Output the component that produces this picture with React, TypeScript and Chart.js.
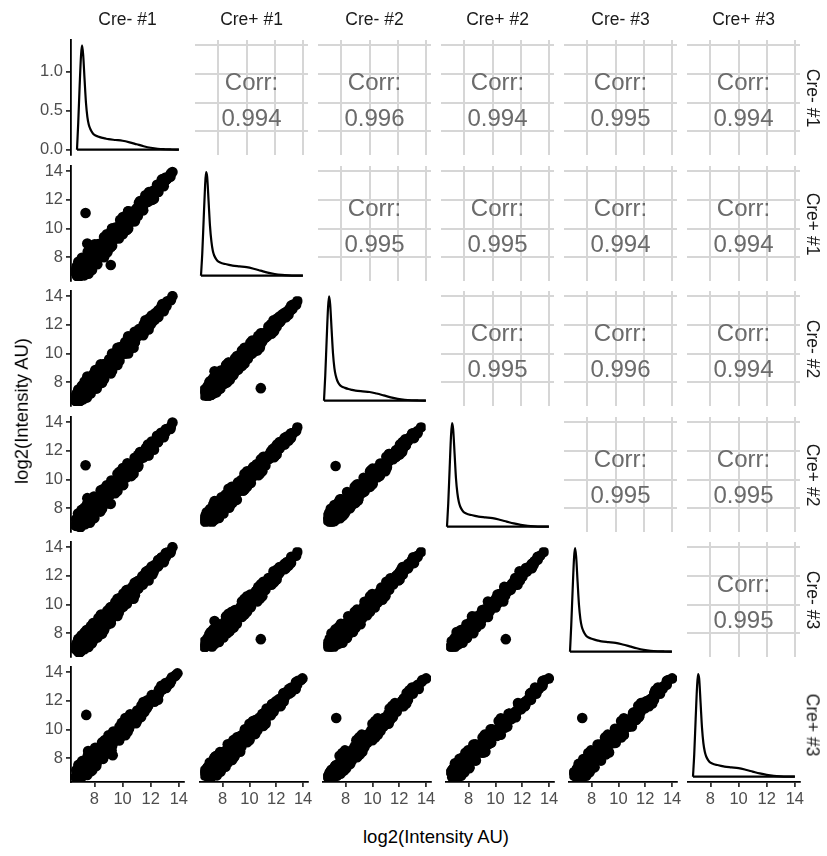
import React, { useEffect, useRef } from "react";
import { Chart, registerables } from "chart.js";

Chart.register(...registerables);

// ---------------- data ----------------
const SAMPLE_NAMES = ["Cre- #1", "Cre+ #1", "Cre- #2", "Cre+ #2", "Cre- #3", "Cre+ #3"];

// log2(Intensity AU) per protein, one array per sample (same protein order)
const creMinus1 = [
  7.02, 6.68, 7.0, 6.78, 7.01, 6.76, 7.33, 6.76, 7.25, 7.01, 7.22, 6.88, 7.64, 6.88, 7.52, 7.2, 7.48, 7.13, 7.9, 7.15,
  7.8, 7.52, 7.83, 7.5, 8.3, 7.58, 8.25, 7.96, 8.28, 7.98, 8.8, 8.1, 8.8, 8.54, 8.88, 8.58, 9.3, 8.8, 9.35, 9.18,
  9.46, 9.26, 9.9, 9.4, 9.95, 9.78, 10.06, 9.86, 10.5, 10.0, 10.55, 10.38, 10.66, 10.46, 11.1, 10.6, 11.1, 11.04, 11.28, 11.2,
  11.68, 11.4, 11.82, 11.76, 12.0, 11.92, 12.4, 12.15, 12.58, 12.59, 12.83, 12.83, 13.25, 13.1, 13.45, 13.51, 13.78, 13.9,
  7.42, 7.55, 9.3,
  6.68, 7.06, 6.88, 7.1, 6.71, 7.14, 6.9, 7.39, 7.18, 7.49, 6.86, 7.44, 7.07, 7.74, 7.43, 7.75, 7.12, 7.72, 7.37, 8.08,
  7.78, 8.13, 7.54, 8.16, 7.81, 8.52, 8.25, 8.62, 8.05, 8.69, 8.38, 9.11, 8.85, 9.22, 8.74, 9.26, 9.04, 9.63, 9.45, 9.76,
  9.34, 9.86, 9.64, 10.23, 10.05, 10.36, 9.94, 10.46, 10.24, 10.83, 10.65, 10.96, 10.54, 11.06, 10.93, 11.36, 11.3, 11.55, 11.34, 11.73,
  11.65, 12.08, 12.02, 12.27, 12.07, 12.49, 12.49, 12.82, 12.87, 13.1, 13.05, 13.36, 13.4, 13.75,
  7.85, 7.35, 8.25, 7.75, 8.65, 8.15, 9.05, 8.55, 9.4, 9.0, 9.8, 9.4, 10.2, 9.8, 10.6, 10.2, 11.0, 10.6, 11.32, 11.08,
  11.72, 11.48, 12.12, 11.88, 12.52, 12.35, 12.85, 12.75, 13.25, 13.15,
];
const crePlus1 = [
  6.68, 7.08, 6.94, 6.68, 7.25, 7.0, 6.73, 7.36, 7.19, 6.89, 7.46, 7.2, 6.84, 7.68, 7.44, 7.04, 7.8, 7.45, 7.1, 7.95,
  7.72, 7.36, 8.15, 7.82, 7.5, 8.38, 8.17, 7.8, 8.6, 8.3, 8.0, 8.9, 8.72, 8.38, 9.2, 8.9, 8.7, 9.4, 9.29, 9.06,
  9.7, 9.5, 9.3, 10.0, 9.89, 9.66, 10.3, 10.1, 9.9, 10.6, 10.49, 10.26, 10.9, 10.7, 10.5, 11.2, 11.06, 10.96, 11.44, 11.36,
  11.28, 11.8, 11.78, 11.68, 12.16, 12.08, 12.0, 12.55, 12.55, 12.53, 12.95, 12.95, 12.95, 13.4, 13.43, 13.47, 13.85, 13.95,
  11.08, 8.95, 7.45,
  6.93, 6.76, 6.68, 7.16, 6.89, 7.08, 7.26, 7.09, 6.97, 7.58, 7.13, 7.35, 7.61, 7.29, 7.12, 7.84, 7.39, 7.63, 7.91, 7.63,
  7.47, 8.22, 7.81, 8.07, 8.35, 8.07, 7.94, 8.71, 8.32, 8.6, 8.92, 8.66, 8.54, 9.31, 8.95, 9.19, 9.46, 9.28, 9.21, 9.83,
  9.55, 9.79, 10.06, 9.88, 9.81, 10.43, 10.15, 10.39, 10.66, 10.48, 10.41, 11.03, 10.75, 10.99, 11.19, 11.14, 11.15, 11.6, 11.47, 11.68,
  11.91, 11.86, 11.87, 12.32, 12.2, 12.44, 12.65, 12.69, 12.78, 13.12, 13.13, 13.33, 13.56, 13.62,
  7.15, 7.35, 7.55, 8.45, 8.65, 8.85, 8.35, 8.55, 8.8, 9.6, 9.8, 10.0, 9.6, 9.8, 10.0, 10.8, 11.0, 11.2, 10.88, 11.08,
  11.28, 11.92, 12.12, 12.32, 12.08, 12.35, 12.55, 13.05, 13.25, 13.45,
];
const creMinus2 = [
  6.72, 6.93, 6.68, 7.2, 6.86, 7.12, 7.03, 7.21, 6.8, 7.43, 7.07, 7.36, 7.24, 7.48, 6.92, 7.76, 7.28, 7.61, 7.5, 7.75,
  7.2, 8.08, 7.63, 7.98, 7.9, 8.18, 7.65, 8.52, 8.08, 8.46, 8.4, 8.7, 8.2, 9.1, 8.68, 9.06, 9.0, 9.25, 8.9, 9.6,
  9.31, 9.62, 9.6, 9.85, 9.5, 10.2, 9.91, 10.22, 10.2, 10.45, 10.1, 10.8, 10.51, 10.82, 10.8, 11.05, 10.8, 11.32, 11.18, 11.44,
  11.48, 11.7, 11.52, 12.04, 11.9, 12.16, 12.2, 12.45, 12.35, 12.8, 12.76, 13.01, 13.1, 13.33, 13.3, 13.65, 13.72, 14.0,
  7.3, 8.4, 8.6,
  6.68, 7.0, 7.15, 6.77, 7.04, 7.26, 6.84, 7.33, 7.45, 7.0, 7.35, 7.62, 6.98, 7.65, 7.84, 7.26, 7.61, 7.9, 7.28, 7.99,
  8.19, 7.64, 8.03, 8.34, 7.72, 8.43, 8.66, 8.13, 8.54, 8.87, 8.29, 9.02, 9.26, 8.73, 9.12, 9.4, 8.97, 9.56, 9.77, 9.38,
  9.72, 10.0, 9.57, 10.16, 10.37, 9.98, 10.32, 10.6, 10.17, 10.76, 10.97, 10.58, 10.92, 11.2, 10.88, 11.31, 11.5, 11.31, 11.58, 11.81,
  11.6, 12.03, 12.22, 12.03, 12.31, 12.57, 12.47, 12.8, 12.99, 12.95, 13.2, 13.41, 13.38, 13.73,
  7.85, 8.05, 7.55, 7.75, 7.95, 8.85, 9.05, 9.25, 8.8, 9.0, 9.2, 10.0, 10.2, 10.4, 10.0, 10.2, 10.4, 11.2, 11.32, 11.52,
  11.28, 11.48, 11.68, 12.32, 12.52, 12.65, 12.55, 12.75, 12.95, 13.45,
];
const crePlus2 = [
  6.87, 6.78, 7.15, 6.75, 6.68, 7.18, 7.18, 7.06, 7.4, 6.98, 6.86, 7.44, 7.44, 7.28, 7.72, 7.16, 7.0, 7.69, 7.7, 7.55,
  8.0, 7.48, 7.35, 8.06, 8.1, 7.98, 8.45, 7.92, 7.8, 8.54, 8.6, 8.5, 9.0, 8.5, 8.4, 9.14, 9.15, 9.1, 9.5, 9.15,
  9.1, 9.68, 9.75, 9.7, 10.1, 9.75, 9.7, 10.28, 10.35, 10.3, 10.7, 10.35, 10.3, 10.88, 10.95, 10.9, 11.2, 11.02, 11.04, 11.48,
  11.58, 11.6, 11.92, 11.74, 11.76, 12.2, 12.3, 12.35, 12.65, 12.58, 12.65, 13.04, 13.18, 13.25, 13.5, 13.5, 13.7, 13.98,
  11.0, 8.7, 8.3,
  6.81, 6.68, 7.0, 7.01, 7.22, 6.87, 7.14, 6.88, 7.3, 7.36, 7.62, 7.03, 7.43, 6.98, 7.61, 7.62, 7.88, 7.31, 7.73, 7.32,
  7.96, 8.0, 8.3, 7.75, 8.17, 7.76, 8.43, 8.49, 8.81, 8.28, 8.74, 8.35, 9.03, 9.09, 9.33, 8.94, 9.32, 9.04, 9.59, 9.66,
  9.93, 9.54, 9.92, 9.64, 10.19, 10.26, 10.53, 10.14, 10.52, 10.24, 10.79, 10.86, 11.13, 10.74, 11.1, 10.98, 11.39, 11.49, 11.72, 11.53,
  11.82, 11.7, 12.11, 12.21, 12.45, 12.29, 12.6, 12.6, 12.92, 13.06, 13.27, 13.24, 13.51, 13.53,
  7.15, 8.05, 8.25, 8.45, 7.95, 8.15, 8.35, 9.25, 9.4, 9.6, 9.2, 9.4, 9.6, 10.4, 10.6, 10.8, 10.4, 10.6, 10.88, 11.52,
  11.72, 11.92, 11.68, 11.88, 12.08, 12.65, 12.85, 13.05, 12.95, 13.15,
];
const creMinus3 = [
  6.68, 6.87, 6.85, 7.14, 6.71, 7.3, 6.88, 7.15, 7.1, 7.37, 6.92, 7.6, 7.04, 7.4, 7.32, 7.68, 7.08, 7.85, 7.3, 7.67,
  7.6, 8.0, 7.43, 8.22, 7.7, 8.1, 8.05, 8.44, 7.88, 8.7, 8.2, 8.62, 8.6, 9.02, 8.48, 9.3, 8.85, 9.19, 9.2, 9.54,
  9.16, 9.8, 9.45, 9.79, 9.8, 10.14, 9.76, 10.4, 10.05, 10.39, 10.4, 10.74, 10.36, 11.0, 10.65, 10.99, 11.0, 11.28, 11.08, 11.56,
  11.38, 11.66, 11.72, 12.0, 11.8, 12.28, 12.1, 12.41, 12.5, 12.77, 12.68, 13.1, 13.03, 13.3, 13.4, 13.63, 13.72, 14.0,
  7.3, 8.2, 8.7,
  7.02, 6.73, 6.68, 6.95, 7.13, 6.84, 7.35, 7.06, 6.91, 7.27, 7.49, 6.99, 7.75, 7.25, 7.03, 7.53, 7.75, 7.27, 8.05, 7.59,
  7.38, 7.91, 8.17, 7.71, 8.49, 8.03, 7.85, 8.4, 8.68, 8.24, 9.06, 8.62, 8.45, 9.0, 9.23, 8.91, 9.57, 9.25, 9.14, 9.59,
  9.83, 9.51, 10.17, 9.85, 9.74, 10.19, 10.43, 10.11, 10.77, 10.45, 10.34, 10.79, 11.03, 10.71, 11.26, 11.11, 11.1, 11.44, 11.65, 11.51,
  11.98, 11.83, 11.82, 12.16, 12.38, 12.27, 12.69, 12.68, 12.75, 13.03, 13.24, 13.23, 13.6, 13.61,
  7.85, 8.05, 8.25, 7.75, 7.95, 8.15, 9.05, 9.25, 9.4, 9.0, 9.2, 9.4, 10.2, 10.4, 10.6, 10.2, 10.4, 10.6, 11.32, 11.52,
  11.72, 11.48, 11.68, 11.88, 12.52, 12.65, 12.85, 12.75, 12.95, 13.15,
];
const crePlus3 = [
  6.81, 6.68, 6.76, 7.2, 7.07, 6.7, 7.12, 6.88, 7.01, 7.43, 7.28, 6.8, 7.36, 7.04, 7.2, 7.76, 7.56, 7.05, 7.62, 7.31,
  7.48, 8.08, 7.91, 7.42, 8.02, 7.74, 7.93, 8.52, 8.36, 7.9, 8.52, 8.26, 8.48, 9.1, 8.96, 8.5, 9.09, 8.92, 9.11, 9.6,
  9.52, 9.2, 9.69, 9.52, 9.71, 10.2, 10.12, 9.8, 10.29, 10.12, 10.31, 10.8, 10.72, 10.4, 10.89, 10.72, 10.94, 11.32, 11.32, 11.16,
  11.54, 11.48, 11.66, 12.04, 12.04, 11.88, 12.26, 12.23, 12.46, 12.8, 12.86, 12.8, 13.15, 13.16, 13.37, 13.65, 13.8, 13.92,
  11.02, 8.5, 8.2,
  6.69, 7.03, 7.03, 6.68, 7.16, 6.81, 7.02, 7.36, 7.33, 6.82, 7.53, 6.94, 7.25, 7.7, 7.66, 7.08, 7.79, 7.22, 7.55, 8.04,
  8.01, 7.46, 8.21, 7.66, 7.99, 8.48, 8.48, 7.95, 8.72, 8.19, 8.56, 9.07, 9.08, 8.55, 9.26, 8.87, 9.18, 9.6, 9.63, 9.24,
  9.86, 9.47, 9.78, 10.2, 10.23, 9.84, 10.46, 10.07, 10.38, 10.8, 10.83, 10.44, 11.06, 10.67, 11.02, 11.33, 11.41, 11.22, 11.67, 11.48,
  11.74, 12.05, 12.13, 11.94, 12.4, 12.24, 12.54, 12.81, 12.94, 12.9, 13.25, 13.22, 13.45, 13.74,
  7.15, 7.35, 8.25, 8.45, 8.65, 8.15, 8.35, 8.55, 9.4, 9.6, 9.8, 9.4, 9.6, 9.8, 10.6, 10.8, 11.0, 10.6, 10.88, 11.08,
  11.72, 11.92, 12.12, 11.88, 12.08, 12.35, 12.85, 13.05, 13.25, 13.15,
];
const SAMPLES = [creMinus1, crePlus1, creMinus2, crePlus2, creMinus3, crePlus3];

// density curves (diagonal panels)
const DENS_X = [
  6.76, 6.85, 6.95, 7.05, 7.12, 7.2, 7.3, 7.4, 7.5, 7.6, 7.7, 7.85, 8.0, 8.25, 8.5, 8.75, 9.0, 9.5, 10.0, 10.5, 11.0,
  11.5, 12.0, 12.5, 13.0, 13.5, 14.0,
];
const densCreMinus1 = [0, 0.35, 0.82, 1.22, 1.34, 1.22, 0.9, 0.6, 0.42, 0.32, 0.27, 0.22, 0.19, 0.17, 0.155, 0.145, 0.135, 0.125, 0.115, 0.095, 0.07, 0.045, 0.025, 0.012, 0.006, 0.003, 0.001];
const densCrePlus1 = [0, 0.28, 0.72, 1.15, 1.33, 1.27, 0.96, 0.64, 0.44, 0.32, 0.26, 0.21, 0.18, 0.16, 0.15, 0.14, 0.13, 0.12, 0.11, 0.09, 0.065, 0.04, 0.022, 0.011, 0.005, 0.002, 0.001];
const densCreMinus2 = [0, 0.32, 0.78, 1.2, 1.34, 1.24, 0.92, 0.61, 0.42, 0.32, 0.26, 0.21, 0.185, 0.165, 0.15, 0.14, 0.13, 0.12, 0.112, 0.092, 0.068, 0.043, 0.024, 0.012, 0.006, 0.003, 0.001];
const densCrePlus2 = [0, 0.3, 0.75, 1.18, 1.33, 1.25, 0.94, 0.62, 0.43, 0.32, 0.26, 0.21, 0.18, 0.16, 0.15, 0.14, 0.13, 0.12, 0.11, 0.09, 0.066, 0.042, 0.023, 0.011, 0.005, 0.002, 0.001];
const densCreMinus3 = [0, 0.34, 0.8, 1.21, 1.33, 1.22, 0.9, 0.6, 0.42, 0.32, 0.27, 0.22, 0.19, 0.17, 0.155, 0.143, 0.133, 0.123, 0.113, 0.093, 0.069, 0.044, 0.024, 0.012, 0.006, 0.003, 0.001];
const densCrePlus3 = [0, 0.29, 0.74, 1.16, 1.32, 1.26, 0.95, 0.63, 0.43, 0.32, 0.26, 0.21, 0.18, 0.16, 0.15, 0.14, 0.13, 0.12, 0.11, 0.09, 0.066, 0.042, 0.023, 0.011, 0.005, 0.002, 0.001];
const DENSITIES = [densCreMinus1, densCrePlus1, densCreMinus2, densCrePlus2, densCreMinus3, densCrePlus3];

// correlation labels (upper triangle, row r, column c)
const CORR_LABELS: string[][] = [
  ["", "0.994", "0.996", "0.994", "0.995", "0.994"],
  ["", "", "0.995", "0.995", "0.994", "0.994"],
  ["", "", "", "0.995", "0.996", "0.994"],
  ["", "", "", "", "0.995", "0.995"],
  ["", "", "", "", "", "0.995"],
  ["", "", "", "", "", ""],
];

const VALUE_TICKS = [8, 10, 12, 14];
const DENS_TICKS = [0, 0.5, 1.0];
const AXIS_TITLE = "log2(Intensity AU)";

// ---------------- layout / style ----------------
const V_MIN = 6.335;
const V_MAX = 14.365;
const D_MIN = -0.068;
const D_MAX = 1.41;

const FONT = '"Liberation Sans", Arial, Helvetica, sans-serif';
const X0 = 71.4;
const DX = 123.2;
const PW = 113;
const Y0 = 40.3;
const DY = 125.4;
const PH = 115;
const Y_AXIS_W = 50;
const X_AXIS_H = 36;
const EDGE = 12;

type Kind = "scatter" | "density" | "corr";
type Panel = {
  r: number; c: number; kind: Kind; showX: boolean; showY: boolean;
  left: number; top: number; width: number; height: number;
  padTop: number; padBottom: number; padRight: number;
  px: number; py: number;
};

const PANELS: Panel[] = [];
for (let r = 0; r < 6; r++) {
  for (let c = 0; c < 6; c++) {
    const kind: Kind = r === c ? "density" : r > c ? "scatter" : "corr";
    const showX = r === 5;
    const showY = c === 0;
    const px = Math.round(X0 + DX * c);
    const py = Math.round(Y0 + DY * r);
    const padTop = showY ? EDGE : 0;
    const padBottom = showY && !showX ? EDGE : 0;
    const padRight = showX ? EDGE : 0;
    const left = px - (showY ? Y_AXIS_W : 0);
    const top = py - padTop;
    const width = PW + (showY ? Y_AXIS_W : 0) + padRight;
    const height = PH + padTop + padBottom + (showX ? X_AXIS_H : 0);
    PANELS.push({ r, c, kind, showX, showY, left, top, width, height, padTop, padBottom, padRight, px, py });
  }
}

function zeroPad(s: any) {
  s.paddingLeft = 0;
  s.paddingRight = 0;
  s.paddingTop = 0;
  s.paddingBottom = 0;
}

function dataAxis(axis: "x" | "y", show: boolean, min: number, max: number, ticks: number[], fmt: (v: number) => string) {
  return {
    type: "linear",
    min,
    max,
    display: show,
    afterBuildTicks: (s: any) => {
      s.ticks = ticks.map((v) => ({ value: v }));
    },
    afterFit: (s: any) => {
      if (axis === "x") s.height = show ? X_AXIS_H : 0;
      else s.width = show ? Y_AXIS_W : 0;
      zeroPad(s);
    },
    ticks: {
      display: true,
      autoSkip: false,
      maxRotation: 0,
      font: { family: FONT, size: 16.5 },
      color: "#4d4d4d",
      padding: 3,
      callback: (v: any) => fmt(Number(v)),
    },
    grid: {
      display: true,
      drawOnChartArea: false,
      drawTicks: true,
      tickLength: 5,
      tickWidth: 1.8,
      tickColor: "#333333",
      lineWidth: 1.8,
      color: "#333333",
    },
    border: { display: true, color: "#000000", width: 1.8 },
  };
}

function gridAxis(axis: "x" | "y") {
  return {
    type: "linear",
    min: V_MIN,
    max: V_MAX,
    display: true,
    afterBuildTicks: (s: any) => {
      s.ticks = VALUE_TICKS.map((v) => ({ value: v }));
    },
    afterFit: (s: any) => {
      if (axis === "x") s.height = 0;
      else s.width = 0;
      zeroPad(s);
    },
    ticks: { display: false },
    grid: { display: true, drawOnChartArea: true, drawTicks: false, color: "#d6d6d6", lineWidth: 2 },
    border: { display: false },
  };
}

const fmtInt = (v: number) => String(Math.round(v));
const fmtDens = (v: number) => v.toFixed(1);

function buildConfig(p: Panel): any {
  const common = {
    animation: false,
    responsive: false,
    events: [],
    layout: { padding: { top: p.padTop, bottom: p.padBottom, right: p.padRight, left: 0 } },
    plugins: { legend: { display: false }, tooltip: { enabled: false } },
  };
  if (p.kind === "corr") {
    return {
      type: "scatter",
      data: { datasets: [{ data: [], pointRadius: 0 }] },
      options: { ...common, scales: { x: gridAxis("x"), y: gridAxis("y") } },
    };
  }
  const xAxis = dataAxis("x", p.showX, V_MIN, V_MAX, VALUE_TICKS, fmtInt);
  if (p.kind === "density") {
    const dy = DENSITIES[p.c];
    const curve = DENS_X.map((x, i) => ({ x, y: dy[i] }));
    const base = [
      { x: DENS_X[0], y: 0 },
      { x: DENS_X[DENS_X.length - 1], y: 0 },
    ];
    return {
      type: "scatter",
      data: {
        datasets: [
          {
            data: curve,
            showLine: true,
            borderColor: "#000000",
            borderWidth: 2.2,
            pointRadius: 0,
            cubicInterpolationMode: "monotone",
            fill: false,
          },
          { data: base, showLine: true, borderColor: "#000000", borderWidth: 2.2, pointRadius: 0, fill: false },
        ],
      },
      options: {
        ...common,
        scales: { x: xAxis, y: dataAxis("y", p.showY, D_MIN, D_MAX, DENS_TICKS, fmtDens) },
      },
    };
  }
  const xs = SAMPLES[p.c];
  const ys = SAMPLES[p.r];
  const pts = xs.map((x, i) => ({ x, y: ys[i] }));
  return {
    type: "scatter",
    data: {
      datasets: [
        {
          data: pts,
          pointRadius: 5.3,
          pointHoverRadius: 5.3,
          backgroundColor: "#000000",
          borderWidth: 0,
        },
      ],
    },
    options: {
      ...common,
      scales: { x: xAxis, y: dataAxis("y", p.showY, V_MIN, V_MAX, VALUE_TICKS, fmtInt) },
    },
  };
}

export default function App() {
  const canvases = useRef<(HTMLCanvasElement | null)[]>([]);

  useEffect(() => {
    const charts: Chart[] = [];
    PANELS.forEach((p, i) => {
      const cv = canvases.current[i];
      if (!cv) return;
      charts.push(new Chart(cv, buildConfig(p)));
    });
    return () => {
      charts.forEach((ch) => ch.destroy());
    };
  }, []);

  const textBase: React.CSSProperties = {
    position: "absolute",
    fontFamily: FONT,
    whiteSpace: "nowrap",
    lineHeight: 1,
  };

  return (
    <div
      style={{
        position: "absolute",
        left: 0,
        top: 0,
        width: 827,
        height: 856,
        background: "#ffffff",
        overflow: "hidden",
      }}
    >
      {PANELS.map((p, i) => (
        <canvas
          key={i}
          ref={(el) => {
            canvases.current[i] = el;
          }}
          width={p.width}
          height={p.height}
          style={{ position: "absolute", left: p.left, top: p.top, width: p.width, height: p.height }}
        />
      ))}

      {PANELS.filter((p) => p.kind === "corr").map((p, i) => (
        <div
          key={"corr" + i}
          style={{
            ...textBase,
            left: p.px + PW / 2,
            top: p.py + PH / 2 + 2,
            transform: "translate(-50%, -50%)",
            fontSize: 24,
            lineHeight: "36px",
            color: "#6b6b6b",
            textAlign: "center",
          }}
        >
          <div>Corr:</div>
          <div>{CORR_LABELS[p.r][p.c]}</div>
        </div>
      ))}

      {SAMPLE_NAMES.map((name, c) => (
        <div
          key={"top" + c}
          style={{
            ...textBase,
            left: Math.round(X0 + DX * c) + PW / 2,
            top: 20,
            transform: "translate(-50%, -50%)",
            fontSize: 17.5,
            color: "#1a1a1a",
          }}
        >
          {name}
        </div>
      ))}

      {SAMPLE_NAMES.map((name, r) => (
        <div
          key={"right" + r}
          style={{
            ...textBase,
            left: 812,
            top: Math.round(Y0 + DY * r) + PH / 2,
            transform: "translate(-50%, -50%) rotate(90deg)",
            fontSize: 17.5,
            color: "#1a1a1a",
          }}
        >
          {name}
        </div>
      ))}

      <div
        style={{
          ...textBase,
          left: 436,
          top: 837,
          transform: "translate(-50%, -50%)",
          fontSize: 18.5,
          color: "#000000",
        }}
      >
        {AXIS_TITLE}
      </div>
      <div
        style={{
          ...textBase,
          left: 22,
          top: 411,
          transform: "translate(-50%, -50%) rotate(-90deg)",
          fontSize: 18.5,
          color: "#000000",
        }}
      >
        {AXIS_TITLE}
      </div>
    </div>
  );
}
